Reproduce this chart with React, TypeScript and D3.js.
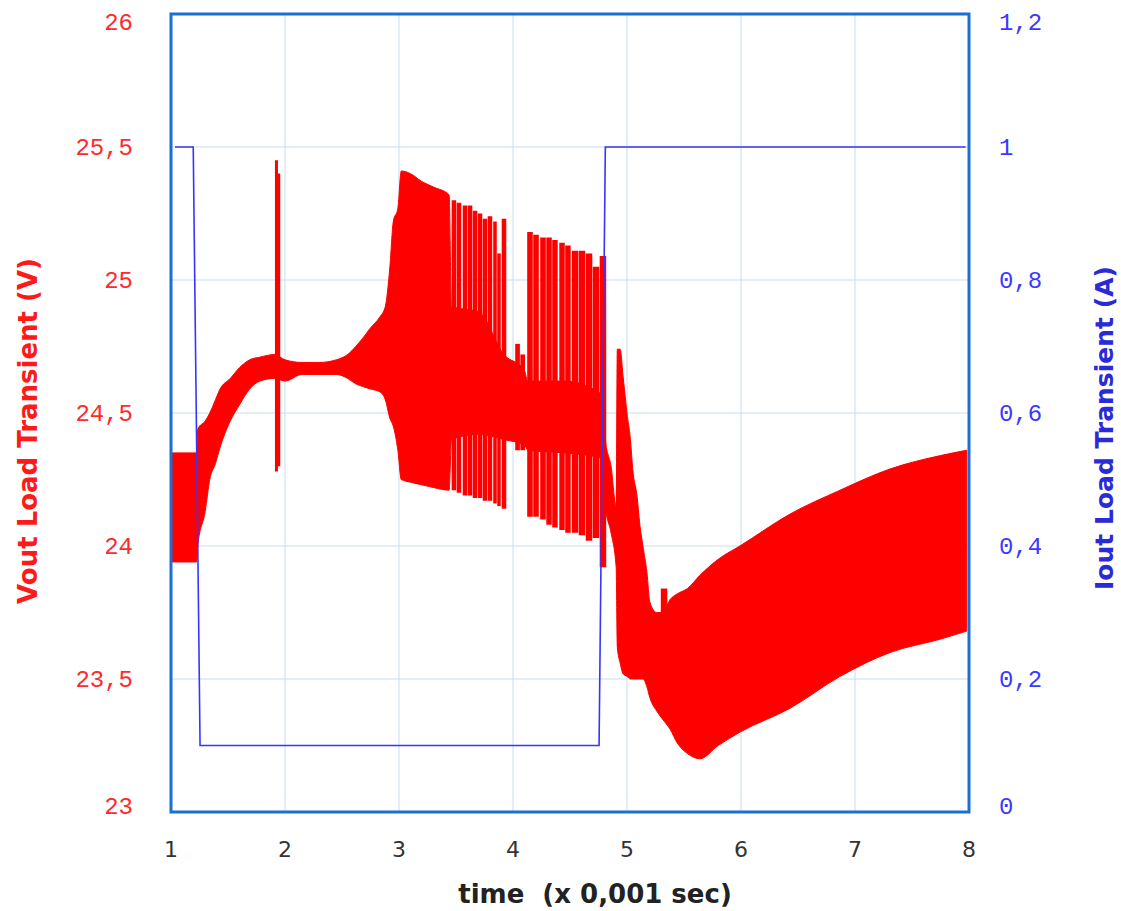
import React from "react";
import * as d3 from "d3";

// Vout envelope (V): outer band of the fast switching ripple
const vTime = [1.0, 1.225, 1.235, 1.3, 1.34, 1.39, 1.43, 1.52, 1.6, 1.69, 1.78, 1.91, 2.0, 2.15, 2.3, 2.45, 2.55, 2.62, 2.68, 2.75, 2.83, 2.88, 2.92, 2.95, 2.99, 3.02, 3.1, 3.2, 3.3, 3.44, 3.46, 3.7, 3.92, 4.1, 4.13, 4.45, 4.78, 4.81, 4.86, 4.905, 4.915, 4.94, 4.965, 5.0, 5.03, 5.05, 5.09, 5.11, 5.14, 5.175, 5.2, 5.26, 5.31, 5.38, 5.44, 5.53, 5.64, 5.8, 5.99, 6.43, 6.87, 7.31, 7.75, 7.98];
const vHigh = [24.35, 24.35, 24.44, 24.47, 24.5, 24.55, 24.59, 24.63, 24.67, 24.7, 24.71, 24.72, 24.7, 24.69, 24.69, 24.7, 24.72, 24.75, 24.78, 24.82, 24.86, 24.9, 25.05, 25.22, 25.27, 25.41, 25.4, 25.37, 25.35, 25.32, 24.9, 24.88, 24.72, 24.66, 24.62, 24.62, 24.57, 24.4, 24.3, 24.15, 24.74, 24.74, 24.64, 24.5, 24.4, 24.29, 24.18, 24.09, 24.0, 23.9, 23.79, 23.75, 23.75, 23.8, 23.82, 23.84, 23.89, 23.95, 24.0, 24.12, 24.21, 24.29, 24.34, 24.36];
const vLow = [23.94, 23.94, 24.0, 24.13, 24.25, 24.31, 24.37, 24.47, 24.53, 24.59, 24.62, 24.63, 24.62, 24.645, 24.645, 24.645, 24.63, 24.61, 24.6, 24.59, 24.58, 24.55, 24.48, 24.45, 24.36, 24.25, 24.24, 24.23, 24.22, 24.21, 24.4, 24.42, 24.4, 24.38, 24.36, 24.35, 24.33, 24.15, 24.05, 23.92, 23.62, 23.56, 23.52, 23.51, 23.5, 23.5, 23.5, 23.5, 23.5, 23.47, 23.43, 23.38, 23.35, 23.31, 23.26, 23.22, 23.2, 23.25, 23.3, 23.39, 23.51, 23.6, 23.65, 23.68];

// separate ripple bursts (V)
const spikeTime = [1.925, 1.945, 3.482, 3.526, 3.579, 3.623, 3.667, 3.711, 3.754, 3.798, 3.842, 3.877, 3.921, 4.04, 4.085, 4.149, 4.202, 4.263, 4.316, 4.368, 4.43, 4.482, 4.544, 4.605, 4.667, 4.728, 4.789, 5.325];
const spikeHigh = [25.45, 25.4, 25.3, 25.29, 25.28, 25.28, 25.26, 25.25, 25.23, 25.24, 25.22, 25.1, 25.23, 24.76, 24.72, 25.18, 25.17, 25.16, 25.16, 25.15, 25.14, 25.13, 25.11, 25.11, 25.1, 25.05, 25.09, 23.84];
const spikeLow = [24.28, 24.3, 24.21, 24.2, 24.19, 24.19, 24.18, 24.18, 24.17, 24.17, 24.16, 24.15, 24.14, 24.36, 24.36, 24.11, 24.11, 24.1, 24.08, 24.07, 24.06, 24.05, 24.05, 24.04, 24.02, 24.03, 23.92, 23.5];

// Iout load step (A)
const iTime = [1.035, 1.195, 1.255, 4.755, 4.81, 7.97];
const iValue = [1, 1, 0.1, 0.1, 1, 1];

const xTicks = [1, 2, 3, 4, 5, 6, 7, 8];
const vTicks = [23, 23.5, 24, 24.5, 25, 25.5, 26];
const iTicks = [0, 0.2, 0.4, 0.6, 0.8, 1, 1.2];

const fmt = (v: number) => String(v).replace(".", ",");

export default function App() {
  const x = d3.scaleLinear().domain([1, 8]).range([171, 969]);
  const yV = d3.scaleLinear().domain([23, 26]).range([812, 14]);
  const yI = d3.scaleLinear().domain([0, 1.2]).range([812, 14]);

  const band = d3
    .area<number>()
    .x((_, i) => x(vTime[i]))
    .y0((_, i) => yV(vLow[i]))
    .y1((_, i) => yV(vHigh[i]))
    .curve(d3.curveMonotoneX);

  const current = d3
    .line<number>()
    .x((_, i) => x(iTime[i]))
    .y((d) => yI(d));

  // bar width follows the spacing of neighbouring bursts, leaving a hairline gap
  const spikeWidth = (i: number) => {
    const gaps = [];
    if (i > 0) gaps.push(x(spikeTime[i]) - x(spikeTime[i - 1]));
    if (i < spikeTime.length - 1) gaps.push(x(spikeTime[i + 1]) - x(spikeTime[i]));
    const g = Math.min(...gaps);
    return Math.max(3, Math.min(6.5, g - 0.45));
  };

  const clampY = (y: number) => Math.min(Math.max(y, 22), 806);

  return (
    <svg width={1121} height={911} style={{ position: "absolute", left: 0, top: 0, background: "#fff" }}>
      <g stroke="#c9dcf2" strokeWidth={1}>
        {xTicks.slice(1, -1).map((t) => (
          <line key={"gx" + t} x1={x(t)} x2={x(t)} y1={14} y2={812} />
        ))}
        {vTicks.slice(1, -1).map((v) => (
          <line key={"gy" + v} x1={171} x2={969} y1={yV(v)} y2={yV(v)} />
        ))}
      </g>

      <path d={band(vTime) || ""} fill="#ff0000" stroke="#ff0000" strokeWidth={1} />
      <g stroke="#ff0000">
        {spikeTime.map((t, i) => (
          <line key={"s" + i} x1={x(t)} x2={x(t)} y1={yV(spikeHigh[i])} y2={yV(spikeLow[i])} strokeWidth={spikeWidth(i)} />
        ))}
      </g>

      <path d={current(iValue) || ""} fill="none" stroke="#3535ff" strokeWidth={1.6} />

      <rect x={171} y={14} width={798} height={798} fill="none" stroke="#1a6fd0" strokeWidth={3} />

      <g fontFamily="'Liberation Mono', monospace" fontSize={24} fill="#ff2a2a" textAnchor="end">
        {vTicks.map((v) => (
          <text key={"vl" + v} x={133} y={clampY(yV(v))} dy="0.35em">
            {fmt(v)}
          </text>
        ))}
      </g>
      <g fontFamily="'Liberation Mono', monospace" fontSize={24} fill="#3a3aff" textAnchor="start">
        {iTicks.map((v) => (
          <text key={"il" + v} x={999} y={clampY(yI(v))} dy="0.35em">
            {fmt(v)}
          </text>
        ))}
      </g>
      <g fontFamily="'DejaVu Sans', sans-serif" fontSize={22} fill="#333" textAnchor="middle">
        {xTicks.map((t) => (
          <text key={"xl" + t} x={x(t)} y={857}>
            {t}
          </text>
        ))}
      </g>

      <text x={595} y={903} textAnchor="middle" fontFamily="'DejaVu Sans', sans-serif" fontWeight="bold" fontSize={26} fill="#222" style={{ whiteSpace: "pre" }}>
        {"time  (x 0,001 sec)"}
      </text>
      <text transform="translate(37,431) rotate(-90)" textAnchor="middle" fontFamily="'DejaVu Sans', sans-serif" fontWeight="bold" fontSize={26} fill="#ff1a1a">
        Vout Load Transient (V)
      </text>
      <text transform="translate(1113,428) rotate(-90)" textAnchor="middle" fontFamily="'DejaVu Sans', sans-serif" fontWeight="bold" fontSize={25} fill="#2a2ad8">
        Iout Load Transient (A)
      </text>
    </svg>
  );
}
